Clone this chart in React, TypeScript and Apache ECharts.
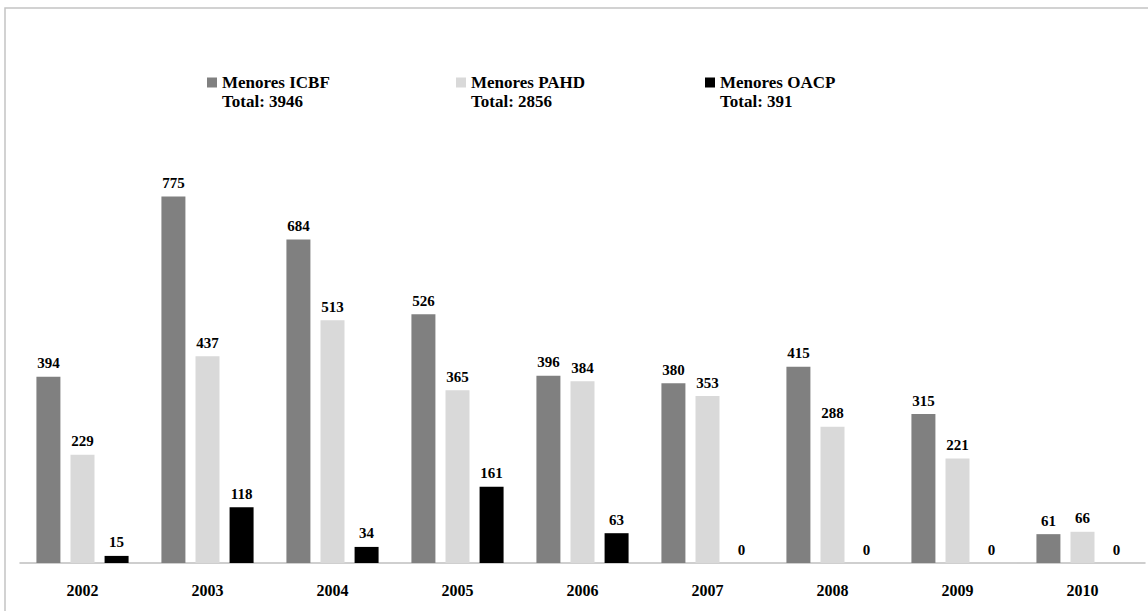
import React, { useEffect, useRef } from "react";
import * as echarts from "echarts";

const years = ["2002", "2003", "2004", "2005", "2006", "2007", "2008", "2009", "2010"];
const icbf = [394, 775, 684, 526, 396, 380, 415, 315, 61];
const pahd = [229, 437, 513, 365, 384, 353, 288, 221, 66];
const oacp = [15, 118, 34, 161, 63, 0, 0, 0, 0];
const seriesNames = ["Menores ICBF", "Menores PAHD", "Menores OACP"];
const seriesColors = ["#808080", "#d9d9d9", "#000000"];

const FONT = "'Liberation Serif', 'DejaVu Serif', serif";

export default function App() {
  const ref = useRef<HTMLDivElement>(null);
  useEffect(() => {
    document.body.style.margin = "0";
    const chart = echarts.init(ref.current!, undefined, { renderer: "svg" });
    const datasets = [icbf, pahd, oacp];
    const totals = datasets.map((d) => d.reduce((a, b) => a + b, 0));
    const legendLefts = [207, 456, 705];
    const option: any = {
      animation: false,
      backgroundColor: "#ffffff",
      grid: { left: 20, right: 3, top: 90, bottom: 48 },
      legend: seriesNames.map((name, i) => ({
        data: [name],
        left: legendLefts[i],
        top: 54,
        padding: 0,
        itemWidth: 10,
        itemHeight: 10,
        icon: "rect",
        formatter: () => ` \n${name}\nTotal: ${totals[i]}`,
        textStyle: {
          fontFamily: FONT,
          fontWeight: "bold",
          fontSize: 17,
          lineHeight: 19,
          color: "#000",
        },
      })),
      xAxis: {
        type: "category",
        data: years,
        axisTick: { show: false },
        axisLine: { lineStyle: { color: "#bfbfbf", width: 1.5 } },
        axisLabel: {
          margin: 19,
          fontFamily: FONT,
          fontWeight: "bold",
          fontSize: 16,
          color: "#000",
        },
      },
      yAxis: {
        type: "value",
        min: 0,
        max: 1000,
        show: false,
        splitLine: { show: false },
      },
      series: seriesNames.map((name, i) => ({
        name,
        type: "bar",
        data: datasets[i],
        barWidth: 24,
        barGap: "42%",
        itemStyle: { color: seriesColors[i] },
        label: {
          show: true,
          position: "top",
          distance: 6,
          fontFamily: FONT,
          fontWeight: "bold",
          fontSize: 15,
          color: "#000",
        },
      })),
      graphic: [
        {
          type: "rect",
          z: -1,
          shape: { x: 5, y: 8, width: 1160, height: 620 },
          style: { fill: "none", stroke: "#c4c4c4", lineWidth: 1.5 },
        },
      ],
    };
    chart.setOption(option);
    return () => chart.dispose();
  }, []);
  return <div ref={ref} style={{ width: 1148, height: 611 }} />;
}
